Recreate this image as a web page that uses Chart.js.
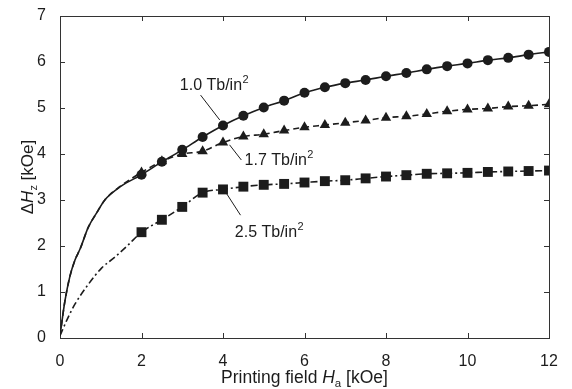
<!DOCTYPE html>
<html><head><meta charset="utf-8">
<script src="https://cdn.jsdelivr.net/npm/chart.js@4"></script>
<style>html,body{margin:0;padding:0;background:#fff}#wrap{width:572px;height:389px}</style>
</head><body><div id="wrap"><canvas id="c" width="572" height="389"></canvas></div>
<script>
// ---- data ----
const markX = [2,2.5,3,3.5,4,4.5,5,5.5,6,6.5,7,7.5,8,8.5,9,9.5,10,10.5,11,11.5,12];
const h10 = [3.55,3.83,4.09,4.37,4.62,4.83,5.01,5.16,5.33,5.45,5.54,5.61,5.69,5.76,5.84,5.91,5.97,6.04,6.09,6.16,6.22];
const h17 = [3.60,3.84,4.00,4.06,4.25,4.38,4.43,4.51,4.58,4.63,4.68,4.73,4.79,4.82,4.87,4.93,4.97,4.99,5.03,5.05,5.08];
const h25 = [2.30,2.57,2.85,3.16,3.23,3.29,3.33,3.35,3.38,3.41,3.43,3.47,3.51,3.54,3.57,3.58,3.59,3.61,3.62,3.63,3.64];
// curve segments before the first marker (no markers)
const lead10X = [0,0.12,0.24,0.37,0.5,0.69,0.9,1.1,1.5];
const lead10Y = [0.05,0.8,1.33,1.7,1.95,2.4,2.72,3.0,3.3];
const lead17X = [0,0.12,0.24,0.37,0.5,0.69,0.9,1.1,1.5];
const lead17Y = [0.05,0.8,1.33,1.7,1.95,2.4,2.72,3.0,3.31];
const lead25X = [0,0.2,0.37,0.69,1.02,1.35,1.67];
const lead25Y = [0.05,0.45,0.74,1.16,1.52,1.76,2.02];
const seriesNames = ['1.0 Tb/in', '1.7 Tb/in', '2.5 Tb/in'];
const xTicks = [0,2,4,6,8,10,12];
const yTicks = [0,1,2,3,4,5,6,7];
// label anchors (data units): text x, baseline y, leader from, leader to
const labelPos = [
  {tx:2.94, ty:5.39, l:[3.45,5.28,3.92,4.74]},
  {tx:4.53, ty:3.76, l:[4.45,3.87,4.16,4.20]},
  {tx:4.29, ty:2.20, l:[4.43,2.67,4.08,3.15]}
];

const FONT = '"Liberation Sans", Arial, Helvetica, sans-serif';
const INK = '#1c1c1c';

function pts(xs, ys){ return xs.map((x,i)=>({x:x, y:ys[i]})); }
function radii(lead, r){ return lead.map(()=>0).concat(markX.map(()=>r)); }

const ds = [
  {label: seriesNames[0], data: pts(lead10X.concat(markX), lead10Y.concat(h10)),
   pointStyle:'circle', pointRadius: radii(lead10X,5), borderDash: []},
  {label: seriesNames[1], data: pts(lead17X.concat(markX), lead17Y.concat(h17)),
   pointStyle:'triangle', pointRadius: radii(lead17X,6), borderDash: [6,4]},
  {label: seriesNames[2], data: pts(lead25X.concat(markX), lead25Y.concat(h25)),
   pointStyle:'rect', pointRadius: radii(lead25X,7), borderDash: [7,3,2,3]}
].map(d => Object.assign(d, {
  borderColor: INK, backgroundColor: INK, pointBackgroundColor: INK, pointBorderColor: INK,
  borderWidth: 1.6, pointBorderWidth: 0, cubicInterpolationMode: 'monotone', fill: false
}));

const deco = {
  id: 'deco',
  beforeDatasetsDraw(chart){
    const {ctx, chartArea: a, scales: {x, y}} = chart;
    ctx.save();
    ctx.strokeStyle = '#333'; ctx.lineWidth = 1;
    ctx.strokeRect(a.left+0.5, a.top+0.5, a.right-a.left, a.bottom-a.top);
    const L = 5;
    ctx.beginPath();
    xTicks.forEach(v => { const px = Math.round(x.getPixelForValue(v))+0.5;
      ctx.moveTo(px, a.bottom); ctx.lineTo(px, a.bottom-L);
      ctx.moveTo(px, a.top); ctx.lineTo(px, a.top+L); });
    yTicks.forEach(v => { const py = Math.round(y.getPixelForValue(v))+0.5;
      ctx.moveTo(a.left, py); ctx.lineTo(a.left+L, py);
      ctx.moveTo(a.right, py); ctx.lineTo(a.right-L, py); });
    ctx.stroke();
    ctx.restore();
  },
  afterDraw(chart){
    const {ctx, chartArea: a, scales: {x, y}} = chart;
    ctx.save();
    ctx.fillStyle = INK; ctx.strokeStyle = INK; ctx.lineWidth = 1;
    ctx.textBaseline = 'alphabetic'; ctx.textAlign = 'left';
    // series labels
    labelPos.forEach((p, i) => {
      const tx = x.getPixelForValue(p.tx), ty = y.getPixelForValue(p.ty);
      ctx.font = '16px ' + FONT;
      ctx.fillText(seriesNames[i], tx, ty);
      const w = ctx.measureText(seriesNames[i]).width;
      ctx.font = '11px ' + FONT;
      ctx.fillText('2', tx + w + 0.5, ty - 7);
      ctx.beginPath();
      ctx.moveTo(x.getPixelForValue(p.l[0]), y.getPixelForValue(p.l[1]));
      ctx.lineTo(x.getPixelForValue(p.l[2]), y.getPixelForValue(p.l[3]));
      ctx.stroke();
    });
    // rich text helper
    function rich(parts, cx, by){
      let total = 0;
      parts.forEach(pt => { ctx.font = pt.f; total += ctx.measureText(pt.t).width; });
      let cur = cx - total/2;
      parts.forEach(pt => { ctx.font = pt.f; ctx.fillText(pt.t, cur, by + (pt.dy||0)); cur += ctx.measureText(pt.t).width; });
    }
    const N = '17.5px ' + FONT, I = 'italic 17.5px ' + FONT, S = '11.5px ' + FONT;
    rich([{t:'Printing field ', f:N},{t:'H', f:I},{t:'a', f:S, dy:4},{t:' [kOe]', f:N}], (a.left+a.right)/2, 383);
    const N2 = '17px ' + FONT, I2 = 'italic 17px ' + FONT, S2 = '11px ' + FONT;
    ctx.save();
    ctx.translate(32.5, (a.top+a.bottom)/2);
    ctx.rotate(-Math.PI/2);
    rich([{t:'\u0394', f:N2},{t:'H', f:I2},{t:'z', f:S2, dy:4},{t:' [kOe]', f:N2}], 0, 0);
    ctx.restore();
    ctx.restore();
  }
};

new Chart(document.getElementById('c'), {
  type: 'line',
  data: { datasets: ds },
  options: {
    responsive: false, animation: false, devicePixelRatio: 1,
    layout: { padding: { left: 0, right: 23, top: 16, bottom: 0 } },
    plugins: { legend: { display: false }, tooltip: { enabled: false } },
    scales: {
      x: { type: 'linear', min: 0, max: 12,
        grid: { display: false }, border: { display: false },
        ticks: { stepSize: 2, color: INK, font: { family: FONT, size: 16 }, padding: 6, maxRotation: 0 },
        afterFit(s){ s.height = 51; } },
      y: { type: 'linear', min: 0, max: 7,
        grid: { display: false }, border: { display: false },
        ticks: { stepSize: 1, color: INK, font: { family: FONT, size: 16 }, padding: 6 },
        afterFit(s){ s.width = 60; } }
    }
  },
  plugins: [deco]
});
</script></body></html>
